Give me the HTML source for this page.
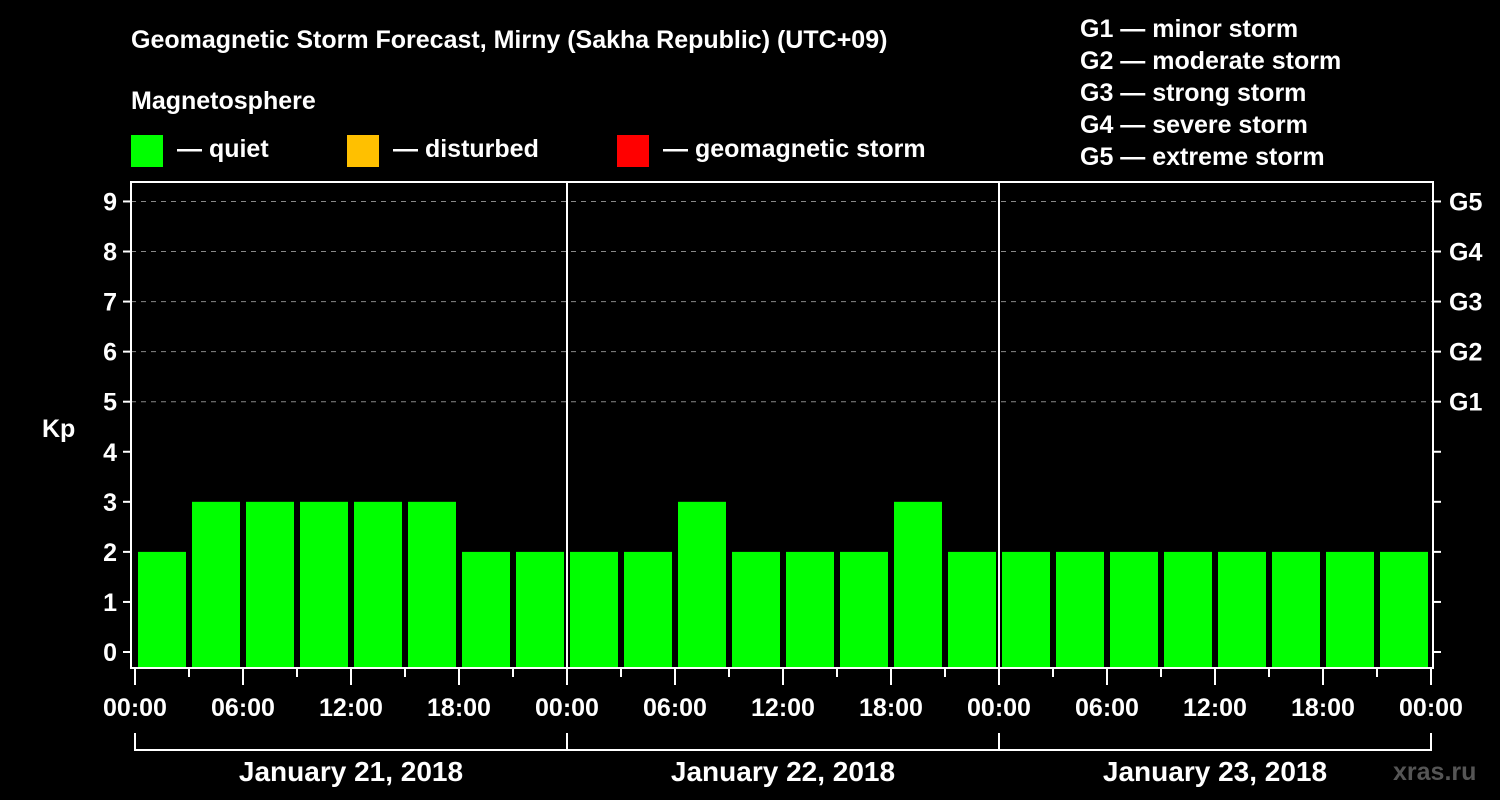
<!DOCTYPE html>
<html><head><meta charset="utf-8"><style>
html,body{margin:0;padding:0;background:#000;}
svg{display:block;font-family:"Liberation Sans",Arial,sans-serif;font-weight:bold;}
</style></head><body>
<svg id="chart" width="1500" height="800" viewBox="0 0 1500 800">
<rect x="0" y="0" width="1500" height="800" fill="#000"/>
<text x="131" y="48" fill="#fff" font-size="25">Geomagnetic Storm Forecast, Mirny (Sakha Republic) (UTC+09)</text>
<text x="131" y="109" fill="#fff" font-size="25">Magnetosphere</text>
<g><rect x="131" y="135" width="32" height="32" fill="#00ff00"/><text x="177" y="157" fill="#fff" font-size="25">— quiet</text></g>
<g><rect x="347" y="135" width="32" height="32" fill="#ffc000"/><text x="393" y="157" fill="#fff" font-size="25">— disturbed</text></g>
<g><rect x="617" y="135" width="32" height="32" fill="#ff0000"/><text x="663" y="157" fill="#fff" font-size="25">— geomagnetic storm</text></g>
<g fill="#fff" font-size="25">
<text x="1080" y="37">G1 — minor storm</text>
<text x="1080" y="69">G2 — moderate storm</text>
<text x="1080" y="101">G3 — strong storm</text>
<text x="1080" y="133">G4 — severe storm</text>
<text x="1080" y="165">G5 — extreme storm</text>
</g>
<text x="42" y="437" fill="#fff" font-size="25">Kp</text>
<g id="grid"></g><g id="bars"></g><g id="axes"></g>
<text x="1393" y="780" fill="#555" font-size="25">xras.ru</text>
</svg>
<script>
const kpValues=[2,3,3,3,3,3,2,2, 2,2,3,2,2,2,3,2, 2,2,2,2,2,2,2,2];
const yTicks=[0,1,2,3,4,5,6,7,8,9];
const gLabels=["G1","G2","G3","G4","G5"];
const gLevels=[5,6,7,8,9];
const hourLabels=["00:00","06:00","12:00","18:00"];
const dayLabels=["January 21, 2018","January 22, 2018","January 23, 2018"];
const NS="http://www.w3.org/2000/svg";
const L=131,R=1433,T=182,B=668,X0=135,X1=1431;
const totalH=72;
const xs=h=>X0+(X1-X0)*h/totalH;
const ys=v=>652-v*50.06;
function mk(tag,attrs,parent){const e=document.createElementNS(NS,tag);for(const k in attrs)e.setAttribute(k,attrs[k]);parent.appendChild(e);return e;}
const grid=document.getElementById('grid'),bars=document.getElementById('bars'),axes=document.getElementById('axes');
gLevels.forEach(v=>{const l=mk('line',{x1:L,x2:R,y1:ys(v),y2:ys(v),stroke:'#888','stroke-width':1,'stroke-dasharray':'5,5'},grid);

});
kpValues.forEach((v,i)=>{const x=xs(i*3)+3,w=xs(3)-X0-6;const r=mk('rect',{x:x,y:ys(v),width:w,height:B-ys(v),fill:v>=5?'#ff0000':(v>=4?'#ffc000':'#00ff00')},bars);

});
const fr=mk('rect',{x:L,y:T,width:R-L,height:B-T,fill:'none',stroke:'#fff','stroke-width':2},axes);


for(let d=1;d<dayLabels.length;d++){const l=mk('line',{x1:xs(d*24),x2:xs(d*24),y1:T,y2:B,stroke:'#fff','stroke-width':2},axes);

}
yTicks.forEach(v=>{mk('line',{x1:L-8,x2:L,y1:ys(v),y2:ys(v),stroke:'#fff','stroke-width':2},axes);mk('line',{x1:R,x2:R+8,y1:ys(v),y2:ys(v),stroke:'#fff','stroke-width':2},axes);
const t=mk('text',{x:L-14,y:ys(v)+9,fill:'#fff','font-size':25,'text-anchor':'end'},axes);t.textContent=v;

});
gLabels.forEach((g,i)=>{const t=mk('text',{x:1449,y:ys(gLevels[i])+9,fill:'#fff','font-size':25},axes);t.textContent=g;

});
for(let h=0;h<=totalH;h+=3){const major=h%6===0;mk('line',{x1:xs(h),x2:xs(h),y1:B,y2:B+(major?17:9),stroke:'#fff','stroke-width':2},axes);
if(major){const t=mk('text',{x:xs(h),y:716,fill:'#fff','font-size':25,'text-anchor':'middle'},axes);t.textContent=hourLabels[(h/6)%4];

}}
mk('line',{x1:X0,x2:X1,y1:750,y2:750,stroke:'#fff','stroke-width':2},axes);
for(let d=0;d<=dayLabels.length;d++){mk('line',{x1:xs(d*24),x2:xs(d*24),y1:733,y2:751,stroke:'#fff','stroke-width':2},axes);}
dayLabels.forEach((s,d)=>{const t=mk('text',{x:xs(d*24+12),y:781,fill:'#fff','font-size':28,'text-anchor':'middle'},axes);t.textContent=s;

});
</script>
</body></html>
